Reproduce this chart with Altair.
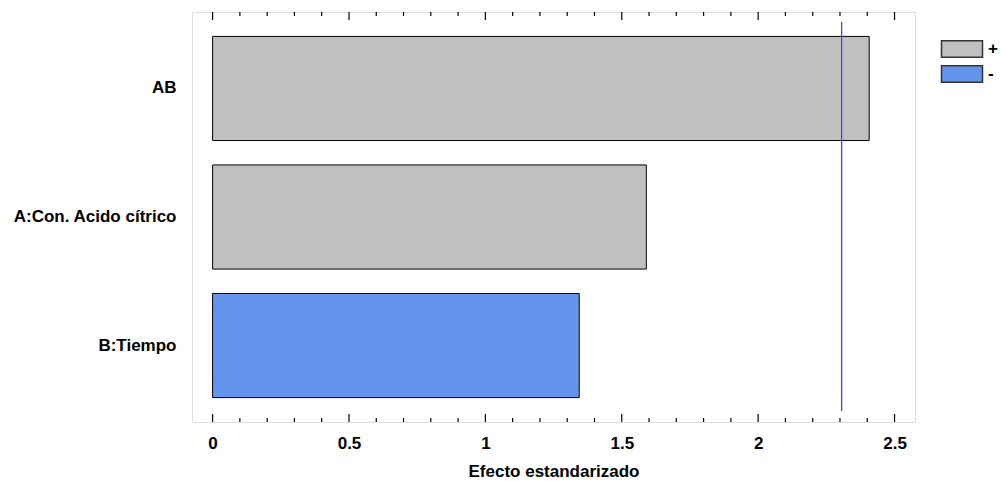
import altair as alt
import pandas as pd

factors = ["AB", "A:Con. Acido cítrico", "B:Tiempo"]
effects = [2.407, 1.59, 1.344]
signs = ["+", "+", "-"]
critical = [2.306]
major_ticks = [0, 0.5, 1, 1.5, 2, 2.5]
minor_ticks = [round(i * 0.1, 1) for i in range(26)]

FONT = "Liberation Sans, Arial, sans-serif"
FS = 17
W, H = 723, 410
XDOM = [-0.0755, 2.575]

df = pd.DataFrame({"factor": factors, "effect": effects, "sign": signs})
xs = alt.Scale(domain=XDOM, nice=False, zero=False)

bars = alt.Chart(df).mark_bar(stroke="black", strokeWidth=1).encode(
    y=alt.Y("factor:N", sort=factors,
            scale=alt.Scale(paddingInner=0.19, paddingOuter=0.19),
            axis=alt.Axis(title=None, ticks=False, domain=False, labelFont=FONT,
                          labelFontSize=FS, labelFontWeight="bold", labelColor="black",
                          labelPadding=16, labelLimit=300)),
    x=alt.X("effect:Q", scale=xs,
            axis=alt.Axis(title="Efecto estandarizado", values=major_ticks, ticks=False,
                          domain=False, grid=False, format="~g",
                          labelFont=FONT, labelFontSize=FS, labelFontWeight="bold",
                          labelColor="black", labelPadding=13,
                          titleFont=FONT, titleFontSize=FS, titleFontWeight="bold",
                          titleColor="black", titlePadding=12)),
    x2=alt.datum(0),
    color=alt.Color("sign:N", scale=alt.Scale(domain=["+", "-"], range=["#c0c0c0", "#6495ed"]),
                    legend=alt.Legend(title=None, orient="none", legendX=759, legendY=26,
                                      symbolType="M-2.05,-0.83L2.05,-0.83L2.05,0.83L-2.05,0.83Z",
                                      symbolSize=400, symbolStrokeColor="#333333",
                                      symbolStrokeWidth=1.5, symbolOpacity=1,
                                      labelFont=FONT, labelFontSize=FS, labelFontWeight="bold",
                                      labelColor="black", labelOffset=15, rowPadding=1,
                                      padding=0)),
)

crit = alt.Chart(pd.DataFrame({"c": critical})).mark_rule(color="#4646e0", strokeWidth=1.3).encode(
    x=alt.X("c:Q", scale=xs), y=alt.value(10), y2=alt.value(399)
)

maj = pd.DataFrame({"t": major_ticks})
mnr = pd.DataFrame({"t": [t for t in minor_ticks if t not in major_ticks]})

def ticks(d, y1, y2):
    return alt.Chart(d).mark_rule(color="black", strokeWidth=1.2).encode(
        x=alt.X("t:Q", scale=xs), y=alt.value(y1), y2=alt.value(y2))

chart = alt.layer(
    bars, crit,
    ticks(maj, H, H - 8), ticks(mnr, H, H - 4),
    ticks(maj, 0, 8), ticks(mnr, 0, 4),
).properties(
    width=W, height=H,
    autosize=alt.AutoSizeParams(type="none"),
    padding={"left": 184, "top": 4, "right": 83, "bottom": 60},
).configure_view(stroke="black", strokeWidth=1.5).configure(background="white")

chart.save("out.html", embed_options={"renderer": "svg", "actions": False})
